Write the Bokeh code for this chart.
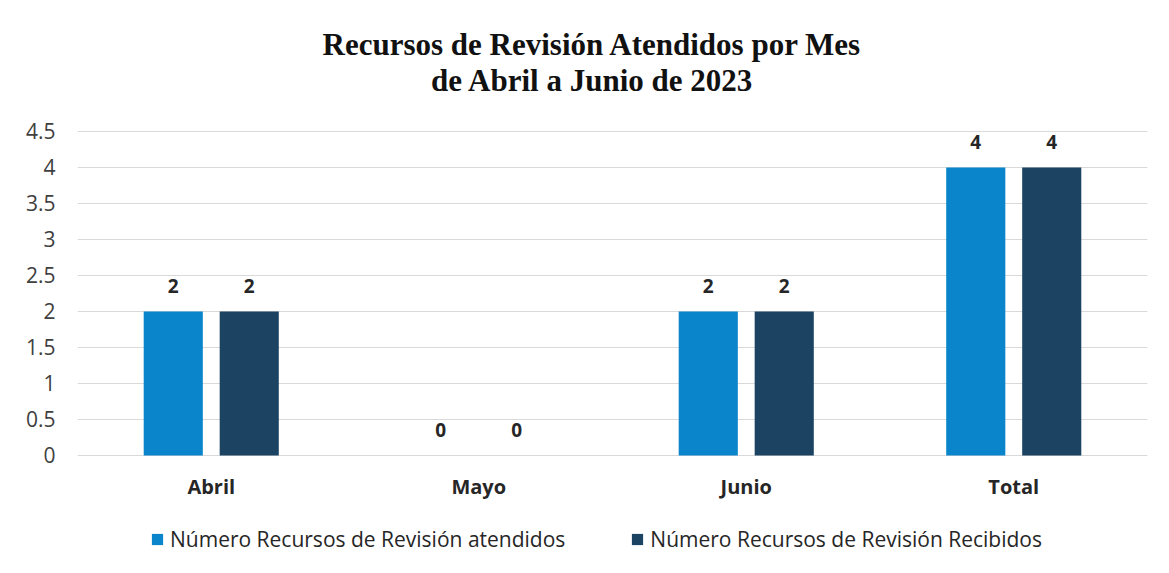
from bokeh.plotting import figure
from bokeh.models import (ColumnDataSource, FactorRange, Range1d, FixedTicker,
                          NumeralTickFormatter, Label, Legend, LegendItem)
from bokeh.transform import dodge
from bokeh.core.properties import value
from bokeh.embed import file_html
from bokeh.resources import INLINE

# ---- data ----
categories = ["Abril", "Mayo", "Junio", "Total"]
atendidos = [2, 0, 2, 4]
recibidos = [2, 0, 2, 4]
series_names = ["Número Recursos de Revisión atendidos",
                "Número Recursos de Revisión Recibidos"]
y_ticks = [0, 0.5, 1, 1.5, 2, 2.5, 3, 3.5, 4, 4.5]
title_lines = ["Recursos de Revisión Atendidos por Mes",
               "de Abril a Junio de 2023"]

c_light = "#0A84CA"
c_dark = "#1D4363"
tick_font = "Open Sans"

src = ColumnDataSource(dict(
    cat=categories,
    zero=[0] * len(categories),
    a=atendidos,
    r=recibidos,
    a_txt=[str(v) for v in atendidos],
    r_txt=[str(v) for v in recibidos],
))

W, H = 1169, 573
# the frame fills the canvas height so that title and legend (annotations)
# sit inside it; only ticks 0..4.5 are shown (72 px per unit)
p = figure(width=W, height=H, output_backend="svg", toolbar_location=None,
           x_range=FactorRange(*categories, range_padding=0),
           y_range=Range1d(-1.639, 6.319), x_axis_location=None,
           min_border_left=77, min_border_right=22,
           min_border_top=0, min_border_bottom=0)
p.x_range.factor_padding = 0
p.outline_line_color = None
p.background_fill_color = "white"
p.border_fill_color = "white"

off = 0.142
bw = 0.221
r1 = p.vbar(x=dodge("cat", -off, range=p.x_range), top="a", width=bw,
            source=src, fill_color=c_light, line_color=None)
r2 = p.vbar(x=dodge("cat", off, range=p.x_range), top="r", width=bw,
            source=src, fill_color=c_dark, line_color=None)

# value labels
for col, o in (("a_txt", -off), ("r_txt", off)):
    p.text(x=dodge("cat", o, range=p.x_range), y=col[0], text=col, source=src,
           text_align="center", text_baseline="middle", y_offset=-25,
           text_font=value(tick_font), text_font_style="bold",
           text_font_size="19px", text_color="#262626")

# category labels under the baseline
p.text(x="cat", y="zero", text="cat", source=src, text_align="center",
       text_baseline="middle", y_offset=31, text_font=value(tick_font),
       text_font_style="bold", text_font_size="20px", text_color="#262626")

# y axis
p.yaxis.ticker = FixedTicker(ticks=y_ticks)
p.yaxis.formatter = NumeralTickFormatter(format="0.[0]")
p.yaxis.axis_line_color = None
p.yaxis.major_tick_line_color = None
p.yaxis.minor_tick_line_color = None
p.yaxis.major_label_standoff = 16
p.yaxis.major_label_text_font = tick_font
p.yaxis.major_label_text_font_size = "21px"
p.yaxis.major_label_text_color = "#404040"

p.xgrid.grid_line_color = None
p.ygrid.grid_line_color = "#D9D9D9"
p.ygrid.grid_line_width = 1

# title (screen units relative to the frame's bottom-left)
for i, t in enumerate(title_lines):
    p.add_layout(Label(x=515, y=529 - i * 36, x_units="screen", y_units="screen",
                       text=t, text_align="center", text_baseline="middle",
                       text_font="Liberation Serif", text_font_style="bold",
                       text_font_size="31px", text_color="#111111"))

# legend
legend = Legend(items=[LegendItem(label=series_names[0], renderers=[r1]),
                       LegendItem(label=series_names[1], renderers=[r2])],
                location=(73, 20), orientation="horizontal",
                glyph_width=14, glyph_height=14, label_standoff=6, spacing=65,
                padding=0, margin=0, border_line_color=None,
                background_fill_alpha=0,
                label_text_font=tick_font, label_text_font_size="21px",
                label_text_color="#262626")
p.add_layout(legend, "center")

open("out.html", "w").write(file_html(p, INLINE))
